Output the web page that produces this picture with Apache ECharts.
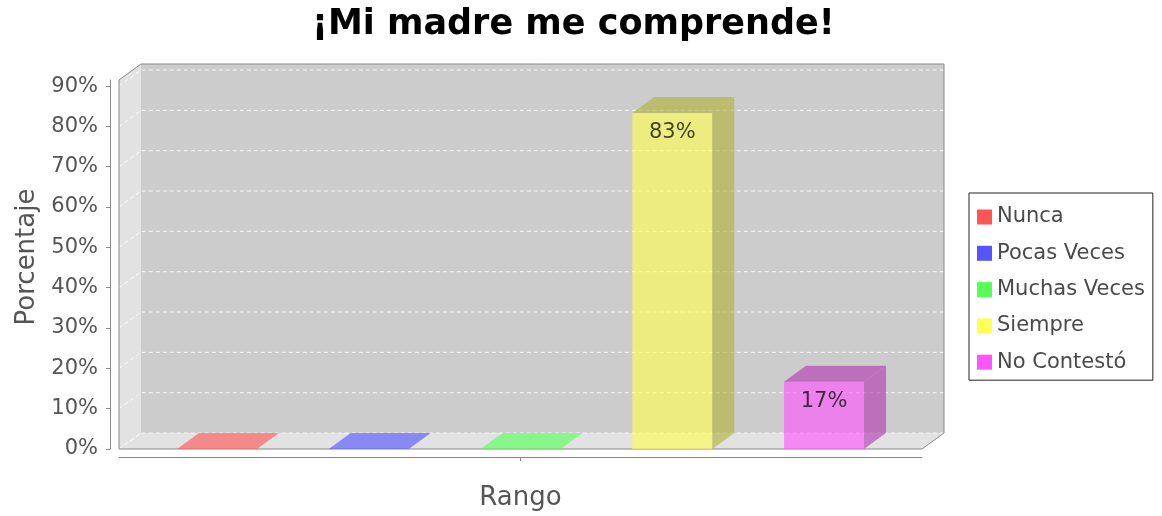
<!DOCTYPE html>
<html>
<head>
<meta charset="utf-8">
<script src="https://cdn.jsdelivr.net/npm/echarts@6/dist/echarts.min.js"></script>
<style>
  html, body { margin: 0; background: #fff; }
  #chart { width: 1162px; height: 516px; }
</style>
</head>
<body>
<div id="chart"></div>
<script>
// datos
const categories = [''];
const seriesNames = ['Nunca', 'Pocas Veces', 'Muchas Veces', 'Siempre', 'No Contestó'];
const values = [0, 0, 0, 83.33, 16.67];
const yTicks = [0, 10, 20, 30, 40, 50, 60, 70, 80, 90];
const colors = ['#ff5555', '#5555ff', '#55ff55', '#ffff55', '#ff55ff'];

const FONT = 'DejaVu Sans';
const DX = 22, DY = -16;      // profundidad 3D
const ALPHA = 0.63;

function rgba(hex, k, a) {
  const n = parseInt(hex.slice(1), 16);
  const r = Math.round(((n >> 16) & 255) * k);
  const g = Math.round(((n >> 8) & 255) * k);
  const b = Math.round((n & 255) * k);
  return `rgba(${r},${g},${b},${a})`;
}

// paredes, piso y lineas de la grilla
function renderWalls(params, api) {
  const cs = params.coordSys;
  const x = cs.x, y = cs.y, w = cs.width, h = cs.height;
  const children = [
    { type: 'rect', shape: { x: x + DX, y: y + DY, width: w, height: h }, style: { fill: '#cccccc' } },
    { type: 'polygon', shape: { points: [[x, y], [x + DX, y + DY], [x + DX, y + h + DY], [x, y + h]] }, style: { fill: '#e2e2e2' } },
    { type: 'polygon', shape: { points: [[x, y + h], [x + DX, y + h + DY], [x + w + DX, y + h + DY], [x + w, y + h]] }, style: { fill: '#e2e2e2' } },
  ];
  yTicks.forEach(t => {
    const yy = api.coord([0, t])[1];
    children.push({
      type: 'polyline',
      shape: { points: [[x, yy], [x + DX, yy + DY], [x + w + DX, yy + DY]] },
      style: { stroke: 'rgba(255,255,255,0.85)', lineWidth: 1, lineDash: [4, 3], fill: null },
    });
  });
  children.push({
    type: 'polygon',
    shape: { points: [[x, y + h], [x, y], [x + DX, y + DY], [x + w + DX, y + DY], [x + w + DX, y + h + DY], [x + w, y + h]] },
    style: { stroke: '#8a8a8a', lineWidth: 1, fill: null },
  });
  return { type: 'group', children };
}

function renderBar(i) {
  return function (params, api) {
    const v = api.value(1);
    const base = api.coord([0, 0]);
    const top = api.coord([0, v]);
    const band = api.size([1, 0])[0];
    const bw = band * 0.0996;
    const step = band * 0.189;
    const x0 = base[0] + (i - (seriesNames.length - 1) / 2) * step - bw / 2;
    const x1 = x0 + bw;
    const yb = base[1], yt = top[1];
    const front = rgba(colors[i], 1, ALPHA);
    const dark = rgba(colors[i], 0.7, ALPHA);
    const children = [];
    if (v > 0) {
      children.push(
        { type: 'rect', shape: { x: x0, y: yt, width: bw, height: yb - yt }, style: { fill: front } },
        { type: 'polygon', shape: { points: [[x1, yt], [x1 + DX, yt + DY], [x1 + DX, yb + DY], [x1, yb]] }, style: { fill: dark } }
      );
    }
    // cara superior (sobre el piso si el valor es cero)
    children.push({
      type: 'polygon',
      shape: { points: [[x0, yt], [x0 + DX, yt + DY], [x1 + DX, yt + DY], [x1, yt]] },
      style: { fill: v > 0 ? dark : front },
    });
    if (v > 0) {
      children.push({
        type: 'text',
        style: {
          text: Math.round(v) + '%', x: (x0 + x1) / 2, y: yt + 20,
          fill: 'rgba(0,0,0,0.72)', font: `21px "${FONT}"`, align: 'center', verticalAlign: 'middle',
        },
      });
    }
    return { type: 'group', children };
  };
}

const chart = echarts.init(document.getElementById('chart'));

const barSeries = seriesNames.map((name, i) => ({
  type: 'custom',
  name,
  itemStyle: { color: colors[i] },
  renderItem: renderBar(i),
  data: [[0, values[i]]],
  z: 3,
}));

chart.setOption({
  animation: false,
  backgroundColor: '#fff',
  textStyle: { fontFamily: FONT },
  title: {
    text: '¡Mi madre me comprende!',
    left: 307,
    top: 2,
    textStyle: { fontSize: 35, fontWeight: 'bold', color: '#000', fontFamily: FONT },
  },
  legend: {
    data: seriesNames,
    orient: 'vertical',
    left: 969,
    top: 193,
    padding: [12, 8, 6, 8],
    borderColor: '#222',
    borderWidth: 1,
    itemWidth: 15,
    itemHeight: 15,
    itemGap: 12.3,
    icon: 'rect',
    textStyle: { fontSize: 21, lineHeight: 24, color: '#4a4a4a', fontFamily: FONT },
  },
  grid: { left: 119, right: 240, top: 80, bottom: 66, containLabel: false },
  xAxis: {
    type: 'category',
    data: categories,
    offset: 8,
    axisLine: { show: true, onZero: false, lineStyle: { color: '#888' } },
    axisTick: { show: true, alignWithLabel: true, length: 4, lineStyle: { color: '#888' } },
    axisLabel: { show: true, formatter: () => '' },
    splitLine: { show: false },
    name: 'Rango',
    nameLocation: 'middle',
    nameGap: 28,
    nameTextStyle: { fontSize: 26, color: '#555', fontFamily: FONT },
  },
  yAxis: {
    type: 'value',
    min: 0,
    max: 91.5,
    interval: 10,
    offset: 9,
    axisLine: { show: true, lineStyle: { color: '#888' } },
    axisTick: { show: true, length: 4, customValues: yTicks, lineStyle: { color: '#888' } },
    axisLabel: {
      customValues: yTicks,
      formatter: '{value}%',
      fontSize: 21,
      color: '#555',
      margin: 12,
      fontFamily: FONT,
    },
    splitLine: { show: false },
    name: 'Porcentaje',
    nameLocation: 'middle',
    nameGap: 68,
    nameTextStyle: { fontSize: 26, color: '#555', fontFamily: FONT, padding: [0, 0, 0, 15] },
  },
  series: [
    { type: 'custom', name: 'paredes', renderItem: renderWalls, data: [[0, 0]], z: 1, silent: true },
    ...barSeries,
  ],
});
</script>
</body>
</html>
